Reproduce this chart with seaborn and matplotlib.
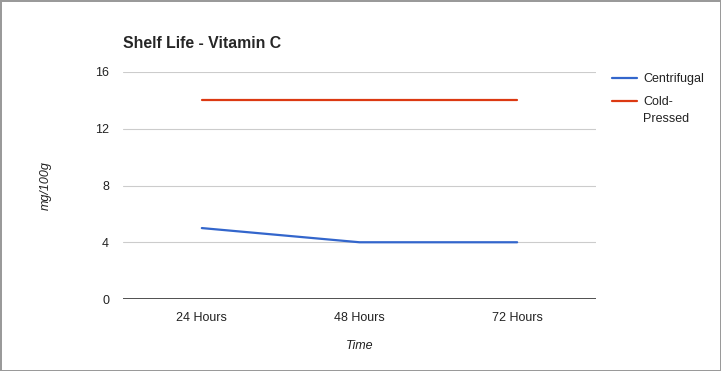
import matplotlib
matplotlib.use("Agg")
import matplotlib.pyplot as plt
import seaborn as sns
import pandas as pd

# data
times = ["24 Hours", "48 Hours", "72 Hours"]
centrifugal = [5, 4, 4]
cold_pressed = [14, 14, 14]
series_names = ["Centrifugal", "Cold-Pressed"]
y_ticks = [0, 4, 8, 12, 16]

df = pd.DataFrame({
    "Time": times * 2,
    "value": centrifugal + cold_pressed,
    "series": [series_names[0]] * 3 + [series_names[1]] * 3,
})

sns.set_style("white")
plt.rcParams["font.family"] = ["Liberation Sans", "DejaVu Sans"]

fig = plt.figure(figsize=(7.21, 3.71), dpi=100)
fig.patch.set_edgecolor("#9a9a9a")
fig.patch.set_linewidth(2)
ax = fig.add_axes([0.1706, 0.194, 0.656, 0.612])

sns.lineplot(data=df, x="Time", y="value", hue="series",
             palette=["#3366cc", "#dc3912"], linewidth=1.6, ax=ax,
             sort=False)

ax.set_xlim(-0.5, 2.5)
ax.set_ylim(0, 16)
ax.set_yticks(y_ticks)
ax.grid(axis="y", color="#cccccc", linewidth=0.8)
ax.set_axisbelow(True)
ax.axhline(0, color="#333333", linewidth=1.2, zorder=1)
for s in ax.spines.values():
    s.set_visible(False)
ax.tick_params(axis="both", length=0, labelsize=9, labelcolor="#222222")
ax.tick_params(axis="y", pad=10)
ax.tick_params(axis="x", pad=9)

ax.set_xlabel("Time", fontstyle="italic", fontsize=9, color="#222222", labelpad=12)
ax.set_ylabel("mg/100g", fontstyle="italic", fontsize=9, color="#222222", labelpad=31)

fig.text(123 / 721, 1 - 43 / 371, "Shelf Life - Vitamin C", fontsize=11.4,
         fontweight="bold", va="center", ha="left")

# legend: wrap "Cold-Pressed" like the original (second line added below)
handles, labels = ax.get_legend_handles_labels()
leg = ax.legend(handles, ["Centrifugal", "Cold-"], loc="upper left",
                bbox_to_anchor=(1.034, 0.995), frameon=False, fontsize=9,
                handlelength=2.0, handletextpad=0.5, labelspacing=0.9,
                borderpad=0, borderaxespad=0, alignment="left")
for t in leg.get_texts():
    t.set_color("#222222")

fig.canvas.draw()
bb = leg.get_texts()[1].get_window_extent()
fig.text(bb.x0 / 721, (bb.y0 - 17) / 371, "Pressed", fontsize=9,
         color="#222222", ha="left", va="bottom")

fig.savefig("out.png", dpi=100)
